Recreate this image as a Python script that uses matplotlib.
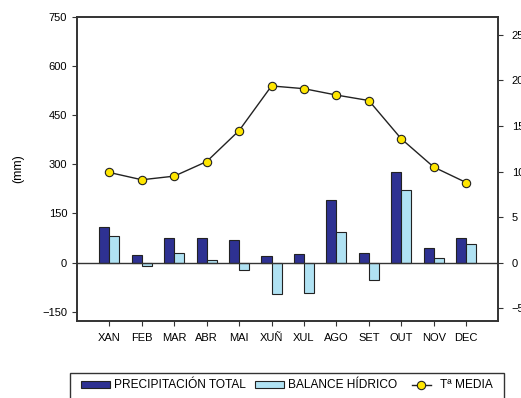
"""
Climograma: precipitación total, balance hídrico e temperatura media mensual.
"""

import numpy as np
import matplotlib.pyplot as plt
from matplotlib.patches import Patch, Rectangle
from matplotlib.lines import Line2D
from matplotlib.legend_handler import HandlerLine2D

plt.rcParams['font.family'] = ['Liberation Sans', 'DejaVu Sans']

meses = ["XAN", "FEB", "MAR", "ABR", "MAI", "XUÑ", "XUL", "AGO", "SET", "OUT", "NOV", "DEC"]
precipitacion = [109, 24, 74, 76, 70, 21, 26, 190, 30, 275, 44, 76]
balance = [82, -9, 29, 7, -22, -96, -93, 94, -53, 222, 13, 56]
temperatura = [9.9, 9.1, 9.5, 11.1, 14.5, 19.4, 19.1, 18.4, 17.8, 13.6, 10.5, 8.8]

mm_ticks = [-150, 0, 150, 300, 450, 600, 750]
temp_ticks = [-5, 0, 5, 10, 15, 20, 25]

COR_PREC = '#2e3192'
COR_BAL = '#b0e2f3'
COR_EIXO = '#333333'
FS = 8


class ShortLine(HandlerLine2D):
    # liña da lenda máis curta ca caixa dos rectángulos
    def get_xdata(self, legend, xdescent, ydescent, width, height, fontsize):
        x0 = -xdescent + 0.18 * width
        x1 = -xdescent + 0.82 * width
        return [x0, x1], [0.5 * (x0 + x1)]


def climograma(output_file="out.png"):
    fig = plt.figure(figsize=(5.21, 3.98), dpi=100)
    ax = fig.add_axes([0.1478, 0.1942, 0.809, 0.7638])

    x = np.arange(len(meses))
    w = 0.31
    ax.bar(x - w / 2, precipitacion, width=w, color=COR_PREC,
           edgecolor='#222222', linewidth=0.8, zorder=2)
    ax.bar(x + w / 2, balance, width=w, color=COR_BAL,
           edgecolor='#222222', linewidth=0.8, zorder=2)
    ax.axhline(0, color=COR_EIXO, linewidth=1.0, zorder=3)

    ax.set_xlim(-1, 12)
    ax.set_ylim(-177, 750)
    ax.set_xticks(x)
    ax.set_xticklabels(meses)
    ax.set_yticks(mm_ticks)
    ax.set_ylabel("(mm)", fontsize=9, labelpad=13)
    ax.tick_params(axis='x', length=3.6, pad=5, labelsize=FS, color=COR_EIXO)
    ax.tick_params(axis='y', length=3.6, pad=3.5, labelsize=FS, color=COR_EIXO)

    ax2 = ax.twinx()
    ax2.plot(x, temperatura, color='#222222', linewidth=1.0,
             marker='o', markersize=6, markerfacecolor='#ffe600',
             markeredgecolor='#222222', markeredgewidth=0.8, zorder=4)
    ax2.set_ylim(-177 / (750 / 27), 27)
    ax2.set_yticks(temp_ticks)
    ax2.tick_params(axis='y', length=3.6, pad=6, labelsize=FS, color=COR_EIXO)

    for a in (ax, ax2):
        for s in a.spines.values():
            s.set_color(COR_EIXO)
            s.set_linewidth(1.2)

    linha = Line2D([0], [0], color='#222222', linewidth=1.0, marker='o',
                   markersize=6, markerfacecolor='#ffe600',
                   markeredgecolor='#222222', markeredgewidth=0.8)
    handles = [
        Patch(facecolor=COR_PREC, edgecolor='#222222', linewidth=0.8),
        Patch(facecolor=COR_BAL, edgecolor='#222222', linewidth=0.8),
        linha,
    ]
    labels = ["PRECIPITACIÓN TOTAL", "BALANCE HÍDRICO", "Tª MEDIA"]
    fig.legend(handles, labels, loc='upper left',
               bbox_to_anchor=(80.7 / 521, 1 - 379.5 / 398),
               ncol=3, fontsize=8.6, frameon=False,
               handlelength=2.45, handleheight=0.52,
               handletextpad=0.35, columnspacing=0.75,
               borderpad=0, borderaxespad=0,
               handler_map={linha: ShortLine()})
    # marco da lenda, aberto por abaixo
    fig.add_artist(Rectangle((70 / 521, -0.02), 434 / 521, 0.02 + 1 - 372.7 / 398,
                             transform=fig.transFigure, fill=False,
                             edgecolor=COR_EIXO, linewidth=1.0))

    fig.savefig(output_file, dpi=100)


climograma()
